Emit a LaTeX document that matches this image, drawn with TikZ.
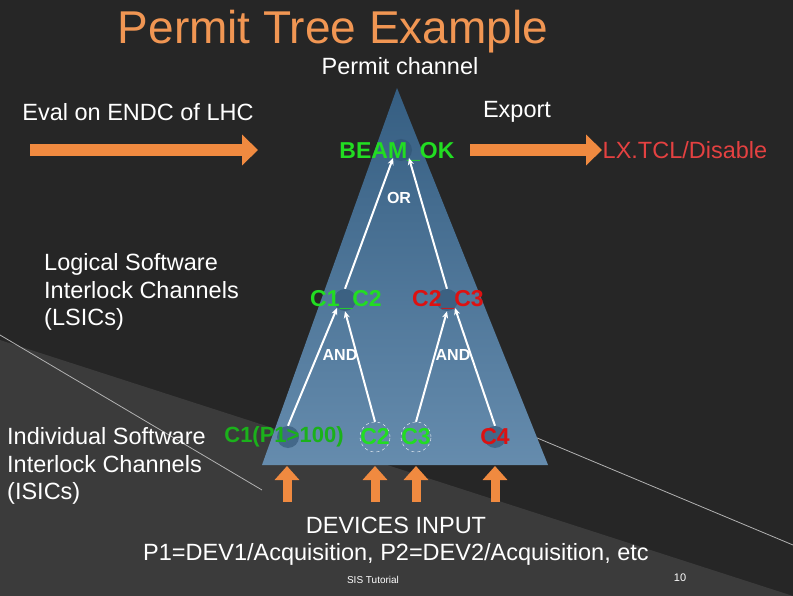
\documentclass[tikz,border=0pt]{standalone}
\usepackage{fontspec}
\setmainfont{Liberation Sans}
\usetikzlibrary{arrows.meta}
\definecolor{org}{HTML}{F08A40}
\definecolor{tri}{HTML}{3F6F99}
\definecolor{grn}{HTML}{22DD22}
\definecolor{rd}{HTML}{DD1111}
\begin{document}
\begin{tikzpicture}[x=1pt,y=-1pt,
  txt/.style={text=white,font=\fontsize{23.5}{27.5}\selectfont,inner sep=0pt},
  lab/.style={font=\fontsize{23}{25}\selectfont\bfseries,inner sep=0pt},
  op/.style={text=white,font=\fontsize{16}{17}\selectfont\bfseries,inner sep=0pt},
  ball/.style={circle,minimum size=22pt,inner sep=0pt,fill=tri!75!black,opacity=0.6},
  link/.style={white,line width=2pt,-{Stealth[length=7pt,width=6pt]}},
  fat/.style={org,line width=12pt,-{Triangle[length=16pt,width=30pt]}},
  up/.style={org,line width=9pt,-{Triangle[length=14pt,width=24pt]}}]
\useasboundingbox (0,0) rectangle (793,596);
\fill[black!85] (0,0) rectangle (793,596);
\fill[black!77] (0,340) -- (793,596) -- (0,596) -- cycle;
\draw[gray!60,line width=0.8pt] (0,335) -- (262,490);
\draw[gray!60,line width=0.8pt] (530,435) -- (793,545);
\shade[top color=tri!85!black,bottom color=tri!80!white] (397,88) -- (548,465) -- (262,465) -- cycle;
\node[text=org!90!white,font=\fontsize{46}{50}\selectfont,inner sep=0pt] (title) at (333,32) {Permit Tree Example};
\node[txt] (pc) at (400,66) {Permit channel};
\node[txt] (eval) at (138,112) {Eval on ENDC of LHC};
\node[txt] (exp) at (517,112) {Export};
\node[txt,align=left,anchor=west] (lsic) at (44,292) {Logical Software\\Interlock Channels\\(LSICs)};
\node[txt,align=left,anchor=west] (isic) at (7,466) {Individual Software\\Interlock Channels\\(ISICs)};
\node[txt,align=center] (dev) at (396,541) {DEVICES INPUT\\P1=DEV1/Acquisition, P2=DEV2/Acquisition, etc};
\node[text=white,font=\fontsize{10}{11}\selectfont\rmfamily] (sis) at (373,580) {SIS Tutorial};
\node[text=white,font=\fontsize{11}{12}\selectfont\rmfamily] (pg) at (680,578) {10};
\node[ball] (b0) at (401,150) {};
\node[ball] (b1) at (345,300) {};
\node[ball] (b2) at (447,300) {};
\node[ball] (l1) at (288,437) {};
\node[circle,minimum size=30pt,draw=white,dashed,thin] (l2) at (375,437) {};
\node[circle,minimum size=30pt,draw=white,dashed,thin] (l3) at (416,437) {};
\node[ball] (l4) at (495,437) {};
\node[lab,text=grn] at (397,152) {BEAM\_OK};
\node[lab,text=grn] at (346,300) {C1\_C2};
\node[lab,text=rd] at (448,300) {C2\_C3};
\node[lab,text=grn!80!black,font=\fontsize{22}{24}\selectfont\bfseries] at (284,437) {C1(P1>100)};
\node[lab,text=grn] at (375,437) {C2};
\node[lab,text=grn] at (416,437) {C3};
\node[lab,text=rd] at (495,437) {C4};
\node[op] (or) at (399,198) {OR};
\node[op] (a1) at (340,355) {AND};
\node[op] (a2) at (453,355) {AND};
\node[txt,text=rd!80!white] (lx) at (685,150) {LX.TCL/Disable};
\draw[link] (b1.north) -- (b0.south west);
\draw[link] (b2.north) -- (b0.south east);
\draw[link] (l1.north) -- (b1.south west);
\draw[link] (l2.north) -- (b1.south);
\draw[link] (l3.north) -- (b2.south);
\draw[link] (l4.north) -- (b2.south east);
\coordinate (s1) at (30,150); \coordinate (e1) at (258,150);
\coordinate (s2) at (470,150); \coordinate (e2) at (602,150);
\draw[fat] (s1) -- (e1);
\draw[fat] (s2) -- (e2);
\foreach \x/\n in {287/u1,375/u2,416/u3,495/u4}{
  \coordinate (\n a) at (\x,502); \coordinate (\n b) at (\x,466);
  \draw[up] (\n a) -- (\n b);}
\end{tikzpicture}
\end{document}
